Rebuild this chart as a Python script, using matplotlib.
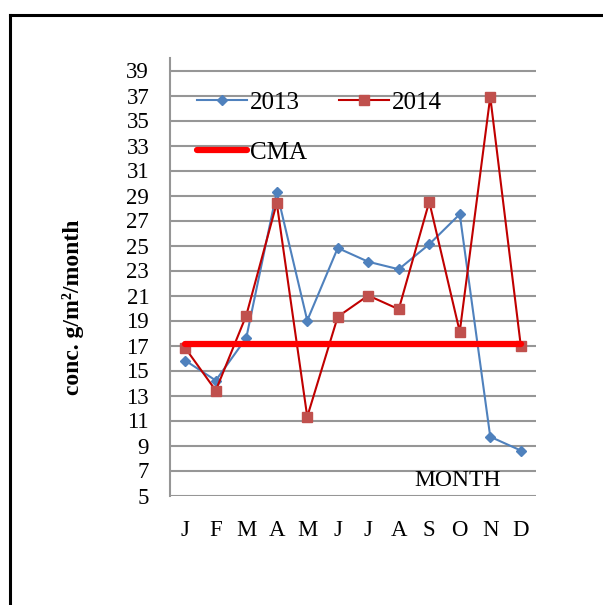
import numpy as np
import matplotlib.pyplot as plt
from matplotlib.lines import Line2D

months = ["J", "F", "M", "A", "M", "J", "J", "A", "S", "O", "N", "D"]
conc_2013 = [15.8, 14.2, 17.6, 29.3, 19.0, 24.8, 23.7, 23.1, 25.1, 27.5, 9.7, 8.6]
conc_2014 = [16.8, 13.4, 19.4, 28.4, 11.3, 19.3, 21.0, 19.9, 28.5, 18.1, 36.9, 17.0]
cma_limit = 17.1
y_ticks = list(range(5, 40, 2))

plt.rcParams['font.family'] = ['Liberation Serif', 'DejaVu Serif']

fig = plt.figure(figsize=(6.03, 6.05), dpi=100)
ax = fig.add_axes([170 / 603, 1 - 495.5 / 605, 366 / 603, (495.5 - 58) / 605])

x = np.arange(len(months))
l13, = ax.plot(x, conc_2013, color="#4F81BD", lw=1.5, marker="D", ms=5,
               mfc="#4F81BD", mec="#4F81BD", label="2013")
l14, = ax.plot(x, conc_2014, color="#C00000", lw=1.5, marker="s", ms=7,
               mfc="#C0504D", mec="#C0504D", label="2014")
lcma, = ax.plot([x[0], x[-1]], [cma_limit, cma_limit], color="#FF0000", lw=4.5,
                solid_capstyle="round", label="CMA")

ax.set_xlim(-0.5, len(months) - 0.5)
ax.set_ylim(5, 40)
ax.set_yticks(y_ticks)
ax.set_xticks(x)
ax.set_xticklabels(months)
ax.tick_params(axis="y", length=0, pad=15, labelsize=16.5)
ax.tick_params(axis="x", length=0, pad=18, labelsize=16.5)
ax.yaxis.grid(True, color="#969696", lw=1.5)
ax.set_axisbelow(True)
for s in ["top", "right", "bottom"]:
    ax.spines[s].set_visible(False)
ax.spines["left"].set_color("#969696")
ax.spines["left"].set_linewidth(1.5)

ax.set_ylabel("conc. g/m²/month", fontsize=17, fontweight="bold")
ax.yaxis.set_label_coords(-0.235, 0.43)

ax.text(0.785, 0.035, "MONTH", transform=ax.transAxes, fontsize=17,
        ha="center", va="center")

ax.legend(handles=[l13, lcma, l14], ncol=2, loc="upper left",
          bbox_to_anchor=(0.04, 0.952), frameon=False, fontsize=18,
          handlelength=2.0, handletextpad=0.1, columnspacing=1.3,
          labelspacing=1.1, borderpad=0)

# outer frame
fig.add_artist(Line2D([10 / 603, 10 / 603], [0, 1 - 15 / 605], color="black", lw=2.2,
                      transform=fig.transFigure))
fig.add_artist(Line2D([10 / 603, 1], [1 - 15 / 605, 1 - 15 / 605], color="black", lw=2.2,
                      transform=fig.transFigure))

fig.savefig("out.png", dpi=100)
